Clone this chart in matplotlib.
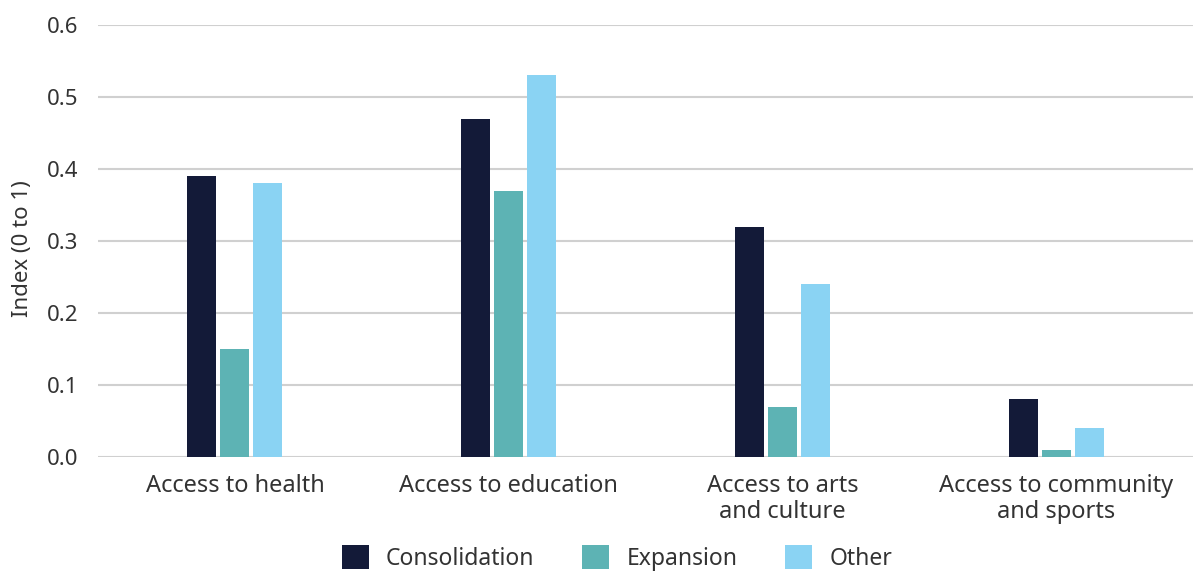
import matplotlib.pyplot as plt
import numpy as np

categories = ['Access to health', 'Access to education', 'Access to arts\nand culture',
              'Access to community\nand sports']
series = ['Consolidation', 'Expansion', 'Other']
consolidation = [0.39, 0.47, 0.32, 0.08]
expansion = [0.15, 0.37, 0.07, 0.01]
other = [0.38, 0.53, 0.24, 0.04]
colors = ['#131a38', '#5db3b4', '#8ad3f3']

plt.rcParams['font.family'] = ['Noto Sans', 'DejaVu Sans']
text_color = '#333333'

fig = plt.figure(figsize=(11.93, 5.71), dpi=100)
ax = fig.add_axes([98 / 1193, 1 - 457 / 571, 1 - 98 / 1193, (457 - 25) / 571])

x = np.arange(len(categories))
width = 0.106
step = 0.1205
for i, (vals, name) in enumerate(zip([consolidation, expansion, other], series)):
    ax.bar(x + (i - 1) * step, vals, width, color=colors[i], label=name, zorder=3)

ax.set_xlim(-0.5, len(categories) - 0.5)
ax.set_ylim(0, 0.6)
ax.set_yticks(np.arange(0, 0.61, 0.1))
ax.set_yticklabels([f'{v:.1f}' for v in np.arange(0, 0.61, 0.1)])
ax.set_xticks(x)
ax.set_xticklabels(categories, linespacing=1.12)
ax.tick_params(axis='both', length=0, colors=text_color)
ax.tick_params(axis='x', pad=12, labelsize=17)
ax.tick_params(axis='y', pad=14, labelsize=16)
ax.grid(axis='y', color='#d0d0d0', linewidth=1.5, zorder=0)
for s in ax.spines.values():
    s.set_visible(False)
ax.set_ylabel('Index (0 to 1)', fontsize=16, color=text_color)
ax.yaxis.set_label_coords(-0.059, 0.4815)

fig.legend(loc='center', bbox_to_anchor=(617 / 1193, 1 - 558 / 571), ncol=3, frameon=False,
           fontsize=16.5, labelcolor=text_color, handlelength=1.18, handleheight=1.18,
           columnspacing=2.1, handletextpad=0.74)

fig.savefig('out.png', dpi=100)
